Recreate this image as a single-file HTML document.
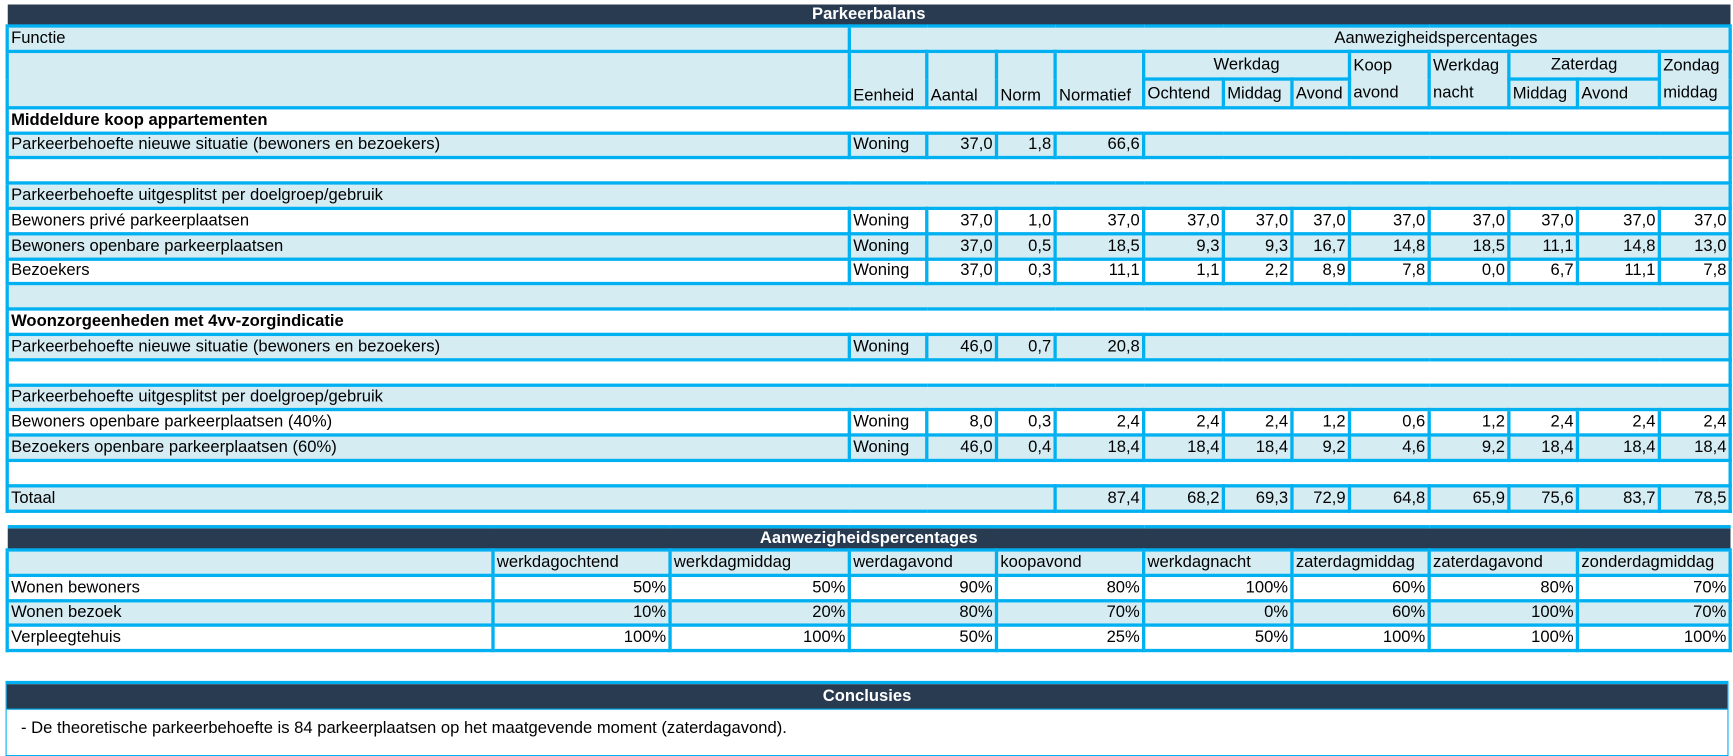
<!DOCTYPE html>
<html><head><meta charset="utf-8"><style>
html,body{margin:0;padding:0;background:#fff;width:1733px;height:755px;overflow:hidden}
#w{position:absolute;left:0;top:0;width:1566px;height:683px;transform:scale(1.1066,1.1054);transform-origin:0 0;font-family:"Liberation Sans",sans-serif;font-size:15px;color:#000}
table{position:absolute;left:5px;border-collapse:collapse;table-layout:fixed}
td{border:3px solid #00b0f0;padding:0 2px;height:19.8px;white-space:nowrap;overflow:hidden;line-height:18px}
.t{background:#293b51;color:#fff;font-weight:bold;text-align:center;border-left:none;border-right:none;border-top:none}
.b{background:#d5ecf3}
.r{text-align:right}
.h{font-weight:bold}
.v{vertical-align:bottom}
.c{text-align:center}
</style></head><body><div id="w">
<table style="top:4px;width:1557px">
<colgroup><col style="width:761px"><col style="width:70px"><col style="width:63px"><col style="width:53px"><col style="width:80px"><col style="width:72px"><col style="width:62px"><col style="width:52px"><col style="width:72px"><col style="width:72px"><col style="width:62px"><col style="width:74px"><col style="width:64px"></colgroup>
<tr><td colspan="13" class="t" style="height:16px">Parkeerbalans</td></tr>
<tr class="b"><td>Functie</td><td colspan="12" style="text-align:center;padding-left:266px">Aanwezigheidspercentages</td></tr>
<tr class="b"><td rowspan="2"></td><td rowspan="2" class="v">Eenheid</td><td rowspan="2" class="v">Aantal</td><td rowspan="2" class="v">Norm</td><td rowspan="2" class="v">Normatief</td><td colspan="3" class="c">Werkdag</td><td rowspan="2" style="vertical-align:top;line-height:24px">Koop<br>avond</td><td rowspan="2" style="vertical-align:top;line-height:24px">Werkdag<br>nacht</td><td colspan="2" class="c">Zaterdag</td><td rowspan="2" style="vertical-align:top;line-height:24px">Zondag<br>middag</td></tr>
<tr class="b"><td>Ochtend</td><td>Middag</td><td>Avond</td><td>Middag</td><td>Avond</td></tr>
<tr><td colspan="13" class="h">Middeldure koop appartementen</td></tr>
<tr class="b"><td>Parkeerbehoefte nieuwe situatie (bewoners en bezoekers)</td><td>Woning</td><td class="r">37,0</td><td class="r">1,8</td><td class="r">66,6</td><td colspan="8"></td></tr>
<tr><td colspan="13"></td></tr>
<tr class="b"><td colspan="13">Parkeerbehoefte uitgesplitst per doelgroep/gebruik</td></tr>
<tr><td>Bewoners privé parkeerplaatsen</td><td>Woning</td><td class="r">37,0</td><td class="r">1,0</td><td class="r">37,0</td><td class="r">37,0</td><td class="r">37,0</td><td class="r">37,0</td><td class="r">37,0</td><td class="r">37,0</td><td class="r">37,0</td><td class="r">37,0</td><td class="r">37,0</td></tr>
<tr class="b"><td>Bewoners openbare parkeerplaatsen</td><td>Woning</td><td class="r">37,0</td><td class="r">0,5</td><td class="r">18,5</td><td class="r">9,3</td><td class="r">9,3</td><td class="r">16,7</td><td class="r">14,8</td><td class="r">18,5</td><td class="r">11,1</td><td class="r">14,8</td><td class="r">13,0</td></tr>
<tr><td>Bezoekers</td><td>Woning</td><td class="r">37,0</td><td class="r">0,3</td><td class="r">11,1</td><td class="r">1,1</td><td class="r">2,2</td><td class="r">8,9</td><td class="r">7,8</td><td class="r">0,0</td><td class="r">6,7</td><td class="r">11,1</td><td class="r">7,8</td></tr>
<tr class="b"><td colspan="13"></td></tr>
<tr><td colspan="13" class="h">Woonzorgeenheden met 4vv-zorgindicatie</td></tr>
<tr class="b"><td>Parkeerbehoefte nieuwe situatie (bewoners en bezoekers)</td><td>Woning</td><td class="r">46,0</td><td class="r">0,7</td><td class="r">20,8</td><td colspan="8"></td></tr>
<tr><td colspan="13"></td></tr>
<tr class="b"><td colspan="13">Parkeerbehoefte uitgesplitst per doelgroep/gebruik</td></tr>
<tr><td>Bewoners openbare parkeerplaatsen (40%)</td><td>Woning</td><td class="r">8,0</td><td class="r">0,3</td><td class="r">2,4</td><td class="r">2,4</td><td class="r">2,4</td><td class="r">1,2</td><td class="r">0,6</td><td class="r">1,2</td><td class="r">2,4</td><td class="r">2,4</td><td class="r">2,4</td></tr>
<tr class="b"><td>Bezoekers openbare parkeerplaatsen (60%)</td><td>Woning</td><td class="r">46,0</td><td class="r">0,4</td><td class="r">18,4</td><td class="r">18,4</td><td class="r">18,4</td><td class="r">9,2</td><td class="r">4,6</td><td class="r">9,2</td><td class="r">18,4</td><td class="r">18,4</td><td class="r">18,4</td></tr>
<tr><td colspan="13"></td></tr>
<tr class="b"><td colspan="4">Totaal</td><td class="r">87,4</td><td class="r">68,2</td><td class="r">69,3</td><td class="r">72,9</td><td class="r">64,8</td><td class="r">65,9</td><td class="r">75,6</td><td class="r">83,7</td><td class="r">78,5</td></tr>
</table>

<table style="top:475px;width:1557px">
<colgroup><col style="width:439px"><col style="width:160px"><col style="width:162px"><col style="width:133px"><col style="width:133px"><col style="width:134px"><col style="width:124px"><col style="width:134px"><col style="width:138px"></colgroup>
<tr><td colspan="9" class="t" style="height:17px;border-top:3px solid #00b0f0">Aanwezigheidspercentages</td></tr>
<tr class="b"><td></td><td>werkdagochtend</td><td>werkdagmiddag</td><td>werdagavond</td><td>koopavond</td><td>werkdagnacht</td><td>zaterdagmiddag</td><td>zaterdagavond</td><td>zonderdagmiddag</td></tr>
<tr><td>Wonen bewoners</td><td class="r">50%</td><td class="r">50%</td><td class="r">90%</td><td class="r">80%</td><td class="r">100%</td><td class="r">60%</td><td class="r">80%</td><td class="r">70%</td></tr>
<tr class="b"><td>Wonen bezoek</td><td class="r">10%</td><td class="r">20%</td><td class="r">80%</td><td class="r">70%</td><td class="r">0%</td><td class="r">60%</td><td class="r">100%</td><td class="r">70%</td></tr>
<tr><td>Verpleegtehuis</td><td class="r">100%</td><td class="r">100%</td><td class="r">50%</td><td class="r">25%</td><td class="r">50%</td><td class="r">100%</td><td class="r">100%</td><td class="r">100%</td></tr>
</table>

<div style="position:absolute;left:5px;top:616px;width:1555px;height:64px;border:1px solid #00b0f0;border-top:3px solid #00b0f0">
<div style="background:#293b51;color:#fff;font-weight:bold;text-align:center;height:22px;line-height:22px;border-bottom:1px solid #00b0f0">Conclusies</div>
<div style="padding:8px 0 0 13px">- De theoretische parkeerbehoefte is 84 parkeerplaatsen op het maatgevende moment (zaterdagavond).</div>
</div>
</div></body></html>
